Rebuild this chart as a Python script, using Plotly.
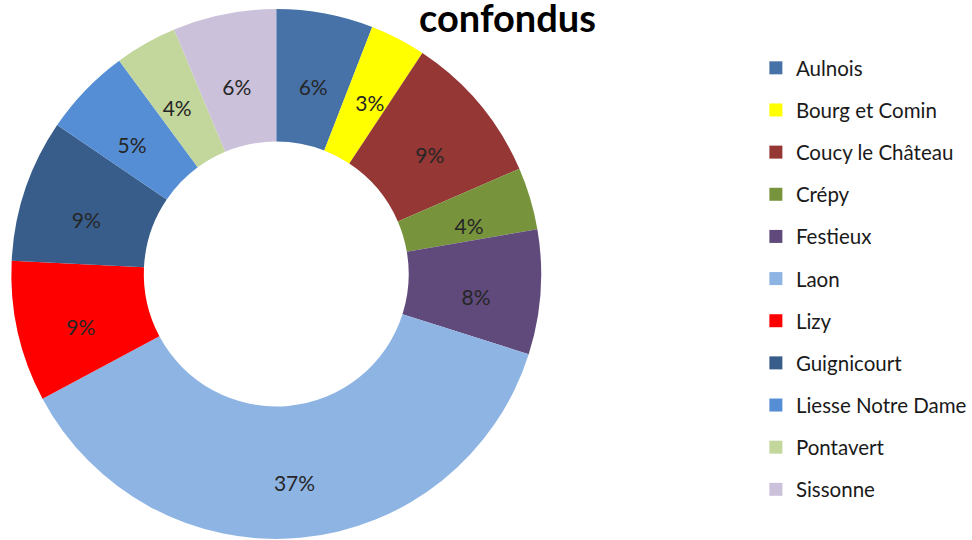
import plotly.graph_objects as go

categories = ["Aulnois", "Bourg et Comin", "Coucy le Château", "Crépy", "Festieux",
              "Laon", "Lizy", "Guignicourt", "Liesse Notre Dame", "Pontavert", "Sissonne"]
shares = [5.9, 3.4, 9.2, 3.8, 7.6, 37.3, 8.6, 8.7, 5.4, 3.8, 6.3]
colors = ["#4672A8", "#FFFF00", "#953735", "#77933C", "#604A7B", "#8EB4E3",
          "#FF0000", "#385D8A", "#558ED5", "#C3D69B", "#CCC1DA"]
title_text = "confondus"

W, H = 972, 540
cx, cy, R = 277.4, 274.0, 266.0   # donut centre / radius in pixels
cy_lab = 283.0                     # label ring centre (labels sit slightly low)
R_lab = 226.0                      # outer radius of the label ring
hole_lab = 0.78

fig = go.Figure()
# coloured donut
fig.add_trace(go.Pie(
    labels=categories,
    values=shares,
    sort=False,
    direction="clockwise",
    rotation=0,
    hole=0.5,
    marker=dict(colors=colors, line=dict(width=0)),
    textinfo="none",
    domain=dict(x=[(cx - R) / W, (cx + R) / W], y=[(H - cy - R) / H, (H - cy + R) / H]),
    hoverinfo="label+percent",
    showlegend=False,
))
# transparent ring carrying the percentage labels at mid-ring
fig.add_trace(go.Pie(
    labels=categories,
    values=shares,
    sort=False,
    direction="clockwise",
    rotation=0,
    hole=hole_lab,
    marker=dict(colors=["rgba(0,0,0,0)"] * len(categories), line=dict(width=0)),
    texttemplate="%{percent:.0%}",
    textposition="inside",
    insidetextorientation="horizontal",
    textfont=dict(family="Lato", size=21, color="#262626"),
    domain=dict(x=[(cx - R_lab) / W, (cx + R_lab) / W],
                y=[(H - cy_lab - R_lab) / H, (H - cy_lab + R_lab) / H]),
    hoverinfo="skip",
    showlegend=False,
))

# legend entries (one per category, spaced through legend groups)
for cat, col in zip(categories, colors):
    fig.add_trace(go.Scatter(
        x=[None], y=[None], mode="markers", name=cat,
        legendgroup=cat,
        marker=dict(symbol="square", size=13, color=col, line=dict(width=0)),
        showlegend=True, hoverinfo="skip",
    ))

fig.update_layout(
    width=W, height=H,
    margin=dict(l=0, r=0, t=0, b=0),
    paper_bgcolor="white",
    plot_bgcolor="white",
    xaxis=dict(visible=False),
    yaxis=dict(visible=False),
    uniformtext=dict(minsize=21, mode="show"),
    legend=dict(
        x=759 / W, xanchor="left",
        y=1 - 48 / H, yanchor="top",
        font=dict(family="Lato", size=20.5, color="#1a1a1a"),
        bgcolor="rgba(0,0,0,0)",
        borderwidth=0,
        tracegroupgap=12.5,
        traceorder="grouped",
        itemclick=False,
    ),
    annotations=[dict(
        text="<b>" + title_text + "</b>",
        x=510 / W, y=1 - 17 / H, xref="paper", yref="paper",
        showarrow=False,
        font=dict(family="Lato", size=38, color="#000000"),
        xanchor="center", yanchor="middle",
    )],
)

fig.write_html("out.html", config={"displayModeBar": False},
               post_script="document.body.style.margin='0px';")
